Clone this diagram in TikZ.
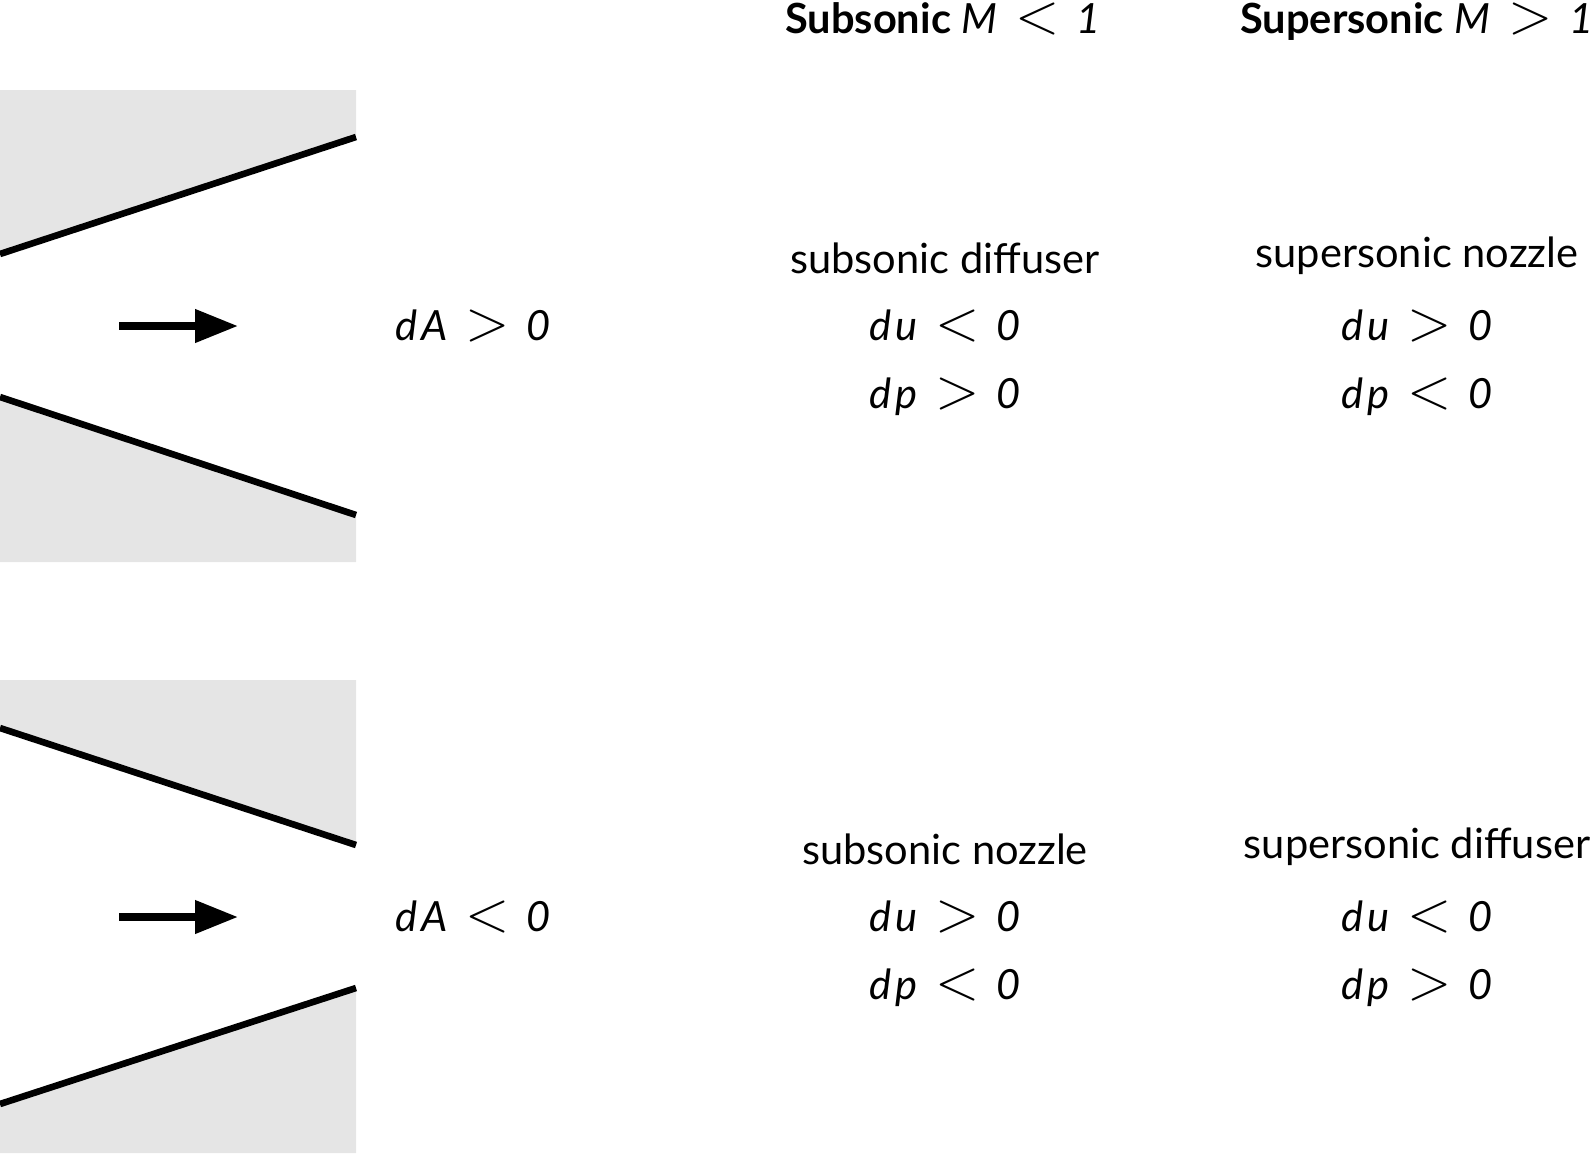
\documentclass[tikz,border=0pt]{standalone}
\usepackage{fontspec}
\usepackage{graphicx}
\setmainfont{Lato}
\usetikzlibrary{arrows.meta}
\newcommand{\mi}[1]{\textit{#1}}
\newcommand{\ex}[3]{#1\hspace{9pt}\scalebox{1.4}{$#2$}\hspace{8.5pt}\mi{#3}}
\newcommand{\dd}[1]{\mi{d}\kern2pt\mi{#1}}
\begin{document}
\begin{tikzpicture}[x=0.5pt,y=-0.5pt,
  wall/.style={line width=3.3pt},
  gry/.style={fill=black!10, draw=none},
  flow/.style={line width=3.7pt,-{Triangle[length=21.5pt,width=16pt]}},
  lbl/.style={inner sep=0pt, anchor=base, font=\fontsize{20.8}{25}\selectfont}]
\useasboundingbox (0,0) rectangle (1592,1153);
% ---- upper channel (diverging)
\fill[gry] (0,90) -- (356,90) -- (356,137) -- (0,254) -- cycle;
\draw[wall] (0,254) -- (356,137);
\fill[gry] (0,397) -- (356,515) -- (356,562) -- (0,562) -- cycle;
\draw[wall] (0,397) -- (356,515);
\coordinate (a1s) at (119,326);
\coordinate (a1e) at (238,326);
\draw[flow] (a1s) -- (a1e);
% ---- lower channel (converging)
\fill[gry] (0,680) -- (356,680) -- (356,845) -- (0,728) -- cycle;
\draw[wall] (0,728) -- (356,845);
\fill[gry] (0,1104) -- (356,988) -- (356,1153) -- (0,1153) -- cycle;
\draw[wall] (0,1104) -- (356,988);
\coordinate (a2s) at (119,917);
\coordinate (a2e) at (238,917);
\draw[flow] (a2s) -- (a2e);
% ---- headers
\node[lbl] (h1) at (943,33) {\ex{\textbf{Subsonic} \mi{M}}{<}{1}};
\node[lbl] (h2) at (1417,33) {\ex{\textbf{Supersonic} \mi{M}}{>}{1}};
% ---- upper row
\node[lbl] (dA1) at (473,340) {\ex{\dd{A}}{>}{0}};
\node[lbl] (t11) at (945,273) {subsonic diffuser};
\node[lbl] (u11) at (945,340) {\ex{\dd{u}}{<}{0}};
\node[lbl] (p11) at (945,408) {\ex{\dd{p}}{>}{0}};
\node[lbl] (t12) at (1417,267) {supersonic nozzle};
\node[lbl] (u12) at (1417,340) {\ex{\dd{u}}{>}{0}};
\node[lbl] (p12) at (1417,408) {\ex{\dd{p}}{<}{0}};
% ---- lower row
\node[lbl] (dA2) at (473,931) {\ex{\dd{A}}{<}{0}};
\node[lbl] (t21) at (945,864) {subsonic nozzle};
\node[lbl] (u21) at (945,931) {\ex{\dd{u}}{>}{0}};
\node[lbl] (p21) at (945,999) {\ex{\dd{p}}{<}{0}};
\node[lbl] (t22) at (1417,858) {supersonic diffuser};
\node[lbl] (u22) at (1417,931) {\ex{\dd{u}}{<}{0}};
\node[lbl] (p22) at (1417,999) {\ex{\dd{p}}{>}{0}};
\end{tikzpicture}
\end{document}
